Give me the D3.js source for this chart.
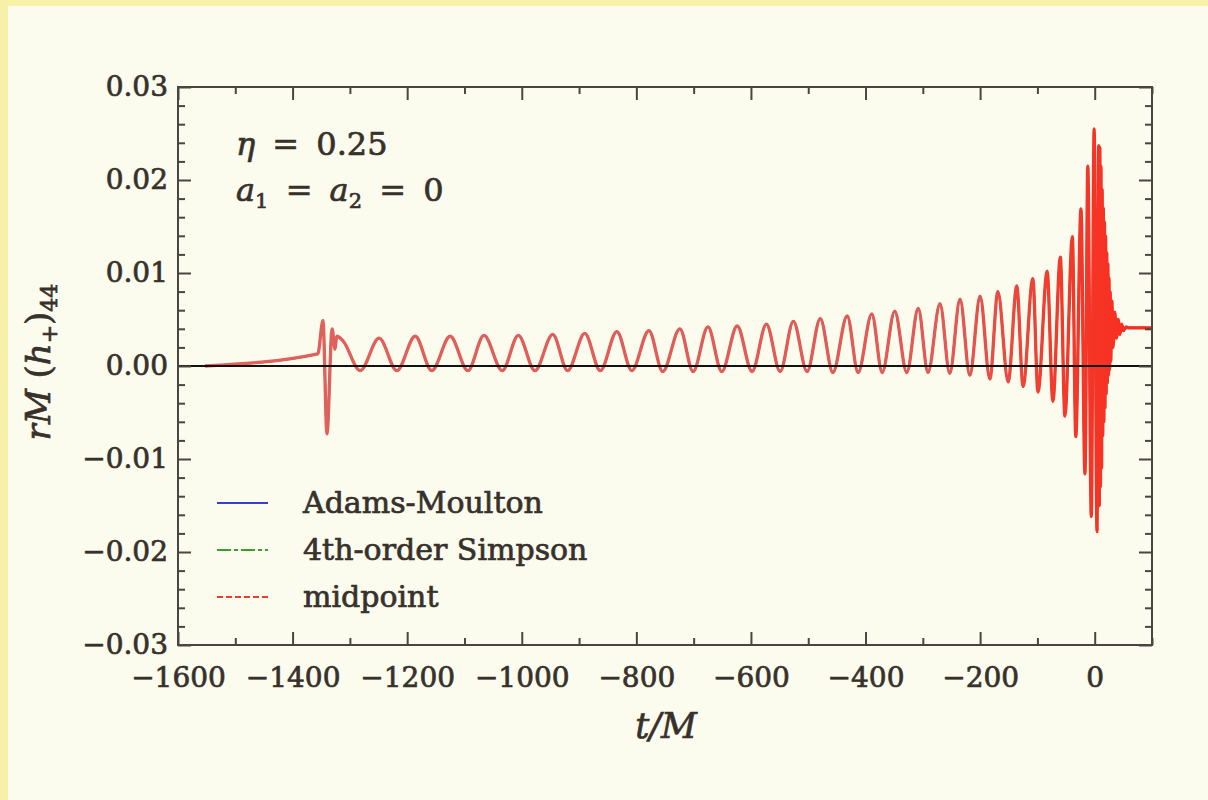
<!DOCTYPE html>
<html>
<head>
<meta charset="utf-8">
<script src="https://cdn.jsdelivr.net/npm/d3@7"></script>
<style>
  body { margin: 0; background: #fbfbee; }
  svg text { font-family: "DejaVu Serif", serif; fill: #37312b; stroke: #37312b; stroke-width: 0.7px; }
</style>
</head>
<body>
<div id="chart"></div>
<script>
// waveform: t/M and rM(h+)44 (peaks / troughs + ringdown)
var tVals = [-1553, -1356, -1347, -1340, -1331, -1326, -1323, -1312,
  -1282, -1249, -1218, -1186, -1157, -1125, -1094, -1066, -1034, -1006,
  -977, -946, -920, -890, -863, -834, -808, -778, -754, -724, -701, -675,
  -651, -624, -598, -573, -549, -526, -502, -479, -457, -432, -413, -389,
  -371, -349, -328, -308, -291, -270, -253, -235, -218, -200, -183, -169,
  -151, -136, -125, -108, -99, -83, -73, -60, -52, -39, -33, -24, -17, -12,
  -6, -1, 4, 7, 8, 9, 10, 11, 12, 13, 14, 15, 16, 17, 18, 19, 20, 21, 22,
  23, 24, 25, 26, 27, 28, 30, 32, 35, 38, 41, 44, 47, 50, 55, 60, 100];
var hVals = [0.0000, 0.0013, 0.0049, -0.0073, 0.0040, 0.0018, 0.0032, 0.0027,
  -0.0005, 0.0030, -0.0005, 0.0032, -0.0005, 0.0032, -0.0005, 0.0033, -0.0005, 0.0033,
  -0.0005, 0.0034, -0.0005, 0.0035, -0.0005, 0.0037, -0.0005, 0.0038, -0.0006, 0.0040, -0.0006, 0.0042,
  -0.0006, 0.0043, -0.0006, 0.0045, -0.0006, 0.0048, -0.0006, 0.0051, -0.0007, 0.0054, -0.0007, 0.0056,
  -0.0007, 0.0059, -0.0007, 0.0062, -0.0007, 0.0067, -0.0008, 0.0072, -0.0010, 0.0075, -0.0014, 0.0080,
  -0.0017, 0.0086, -0.0022, 0.0094, -0.0028, 0.0102, -0.0038, 0.0117, -0.0054, 0.0139, -0.0076, 0.0169, -0.0116, 0.0215,
  -0.0162, 0.0255, -0.0178, 0.0237, -0.0150, 0.0235, -0.0130, 0.0215, -0.0110, 0.0190, -0.0075, 0.0170, -0.0060, 0.0155, -0.0045, 0.0140, -0.0030, 0.0122, -0.0018,
  0.0110, -0.0010, 0.0095, -0.0004, 0.0080, 0.0005, 0.0070, 0.0020, 0.0058, 0.0030, 0.0050, 0.0034, 0.0045, 0.0038, 0.0042, 0.0041, 0.0041];

var seriesNames = ["Adams-Moulton", "4th-order Simpson", "midpoint"];
var seriesColors = ["#3a3ad6", "#3f9a30", "#ec3b32"];
var seriesDash = [null, "14,3,4,3", "6,3"];

var xMajor = [-1600, -1400, -1200, -1000, -800, -600, -400, -200, 0];
var xMinor = [-1500, -1300, -1100, -900, -700, -500, -300, -100, 100];
var yMajor = [-0.03, -0.02, -0.01, 0.00, 0.01, 0.02, 0.03];

var width = 1208, height = 800;
var margin = {top: 87, right: 56, bottom: 155, left: 178};

var svg = d3.select("#chart").append("svg")
    .attr("width", width)
    .attr("height", height);

// slide background with yellow edge
svg.append("rect").attr("width", width).attr("height", height).attr("fill", "#fbfbee");
svg.append("rect").attr("width", width).attr("height", 6).attr("fill", "#f8f2a8");
svg.append("rect").attr("width", 8).attr("height", height).attr("fill", "#f7f0a8");

var x = d3.scaleLinear().domain([-1600, 100]).range([margin.left, width - margin.right]);
var y = d3.scaleLinear().domain([-0.03, 0.03]).range([height - margin.bottom, margin.top]);

var yMinor = d3.range(-0.03, 0.0301, 0.002).filter(function(v) {
    return Math.abs(Math.round(v * 100) - v * 100) > 1e-6;
});

// midpoint curve looks pinker in the inspiral, saturated in the merger
var grad = svg.append("defs").append("linearGradient")
    .attr("id", "redGrad")
    .attr("gradientUnits", "userSpaceOnUse")
    .attr("x1", x(-1600)).attr("x2", x(100))
    .attr("y1", 0).attr("y2", 0);
grad.append("stop").attr("offset", 0).attr("stop-color", "#e0625e");
grad.append("stop").attr("offset", (x(-250) - x(-1600)) / (x(100) - x(-1600))).attr("stop-color", "#e25a55");
grad.append("stop").attr("offset", (x(-60) - x(-1600)) / (x(100) - x(-1600))).attr("stop-color", "#f23a2c");
grad.append("stop").attr("offset", 1).attr("stop-color", "#fb2a1c");

var lineGen = d3.line()
    .x(function(d) { return x(d.t); })
    .y(function(d) { return y(d.h); })
    .curve(d3.curveMonotoneX);

var pts = tVals.map(function(t, i) { return {t: t, h: hVals[i]}; });

// the three integrators sit on top of each other; midpoint is drawn last
for (var i = 0; i < seriesNames.length; i++) {
    svg.append("path")
        .attr("d", lineGen(pts))
        .attr("fill", "none")
        .attr("stroke", i == 2 ? "url(#redGrad)" : seriesColors[i])
        .attr("stroke-width", i == 2 ? 3.3 : 2)
        .attr("stroke-linejoin", "round");
}

// zero line
svg.append("line")
    .attr("x1", x(-1600)).attr("x2", x(100))
    .attr("y1", y(0)).attr("y2", y(0))
    .attr("stroke", "#111").attr("stroke-width", 2);

function styleAxis(g) {
    g.select(".domain").remove();
    g.selectAll(".tick line").attr("stroke", "#4a4540").attr("stroke-width", 2);
    g.selectAll("text").attr("font-size", 28).attr("fill", "#37312b")
        .attr("font-family", "DejaVu Serif");
}

// left
svg.append("g").attr("transform", "translate(" + margin.left + ",0)")
    .call(d3.axisLeft(y).tickValues(yMajor).tickSize(-13).tickPadding(10).tickFormat(d3.format(".2f")))
    .call(styleAxis);
svg.append("g").attr("transform", "translate(" + margin.left + ",0)")
    .call(d3.axisLeft(y).tickValues(yMinor).tickSize(-7).tickFormat(""))
    .call(styleAxis);
// right
svg.append("g").attr("transform", "translate(" + (width - margin.right) + ",0)")
    .call(d3.axisRight(y).tickValues(yMajor).tickSize(-13).tickFormat(""))
    .call(styleAxis);
svg.append("g").attr("transform", "translate(" + (width - margin.right) + ",0)")
    .call(d3.axisRight(y).tickValues(yMinor).tickSize(-7).tickFormat(""))
    .call(styleAxis);
// bottom
svg.append("g").attr("transform", "translate(0," + (height - margin.bottom) + ")")
    .call(d3.axisBottom(x).tickValues(xMajor).tickSize(-13).tickPadding(22).tickFormat(d3.format("d")))
    .call(styleAxis);
svg.append("g").attr("transform", "translate(0," + (height - margin.bottom) + ")")
    .call(d3.axisBottom(x).tickValues(xMinor).tickSize(-7).tickFormat(""))
    .call(styleAxis);
// top
svg.append("g").attr("transform", "translate(0," + margin.top + ")")
    .call(d3.axisTop(x).tickValues(xMajor).tickSize(-13).tickFormat(""))
    .call(styleAxis);
svg.append("g").attr("transform", "translate(0," + margin.top + ")")
    .call(d3.axisTop(x).tickValues(xMinor).tickSize(-7).tickFormat(""))
    .call(styleAxis);

// frame
svg.append("rect")
    .attr("x", margin.left).attr("y", margin.top)
    .attr("width", width - margin.right - margin.left)
    .attr("height", height - margin.bottom - margin.top)
    .attr("fill", "none").attr("stroke", "#4a4540").attr("stroke-width", 2);

// axis labels
var xl = svg.append("text")
    .attr("x", 666).attr("y", 738)
    .attr("text-anchor", "middle")
    .attr("font-size", 35).attr("font-style", "italic");
xl.text("t/M");

var yl = svg.append("text")
    .attr("transform", "translate(50,362) rotate(-90)")
    .attr("text-anchor", "middle")
    .attr("font-size", 34);
yl.append("tspan").attr("font-style", "italic").text("rM");
yl.append("tspan").text(" (");
yl.append("tspan").attr("font-style", "italic").text("h");
yl.append("tspan").attr("font-size", 22).attr("dy", 7).text("+");
yl.append("tspan").attr("dy", -7).text(")");
yl.append("tspan").attr("font-size", 22).attr("dy", 7).text("44");

// parameters
var p1 = svg.append("text").attr("x", 236).attr("y", 155).attr("font-size", 32)
    .attr("word-spacing", 7);
p1.append("tspan").attr("font-style", "italic").text("η");
p1.append("tspan").text(" = 0.25");

var p2 = svg.append("text").attr("x", 236).attr("y", 201).attr("font-size", 32)
    .attr("word-spacing", 7);
p2.append("tspan").attr("font-style", "italic").text("a");
p2.append("tspan").attr("font-size", 21).attr("dy", 7).text("1");
p2.append("tspan").attr("dy", -7).text(" = ");
p2.append("tspan").attr("font-style", "italic").text("a");
p2.append("tspan").attr("font-size", 21).attr("dy", 7).text("2");
p2.append("tspan").attr("dy", -7).text(" = 0");

// legend
var legend = svg.append("g").attr("transform", "translate(217,503)")
    .selectAll("g")
    .data(seriesNames)
    .enter()
    .append("g")
    .attr("transform", function(d, i) { return "translate(0," + i * 47 + ")"; });

legend.append("line")
    .attr("x1", 0).attr("x2", 51)
    .attr("stroke", function(d, i) { return seriesColors[i]; })
    .attr("stroke-width", 2)
    .attr("stroke-dasharray", function(d, i) { return seriesDash[i]; });

legend.append("text")
    .attr("x", 86)
    .attr("y", 10)
    .attr("font-size", 30)
    .text(function(d) { return d; });
</script>
</body>
</html>
